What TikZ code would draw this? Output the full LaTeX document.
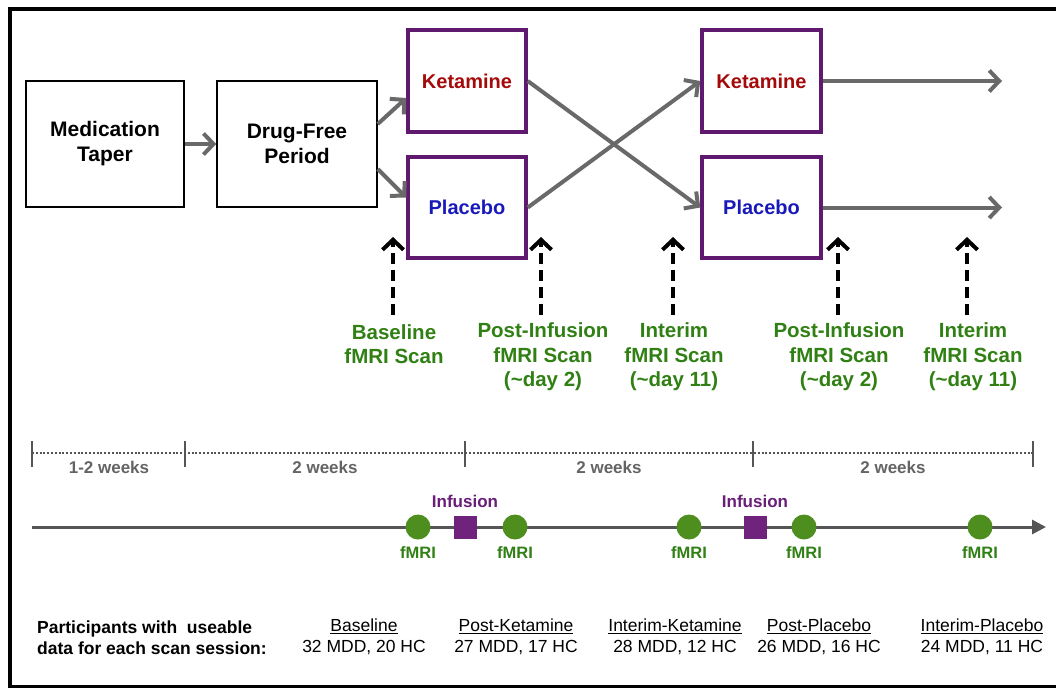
\documentclass[tikz,border=0pt]{standalone}
\usepackage{fontspec}
\setmainfont{Liberation Sans}
\usetikzlibrary{arrows.meta}
\definecolor{boxpurple}{RGB}{95,25,110}
\definecolor{sqpurple}{RGB}{112,35,125}
\definecolor{infpurple}{RGB}{105,30,120}
\definecolor{ketred}{RGB}{165,10,10}
\definecolor{plablue}{RGB}{25,25,185}
\definecolor{textgreen}{RGB}{48,128,20}
\definecolor{circgreen}{RGB}{78,142,30}
\definecolor{arrowgray}{RGB}{105,105,105}
\definecolor{linegray}{RGB}{85,85,85}
\definecolor{weekgray}{RGB}{100,100,100}
\begin{document}
\begin{tikzpicture}[x=1pt,y=-1pt,
  wbox/.style={draw=black,line width=1.5pt,minimum width=158pt,minimum height=126pt,inner sep=0pt,
    font=\fontsize{21}{25}\selectfont\bfseries,align=center},
  pbox/.style={draw=boxpurple,line width=3.5pt,minimum width=118pt,minimum height=102pt,inner sep=0pt,
    font=\fontsize{20}{24}\selectfont\bfseries},
  garrow/.style={draw=arrowgray,line width=4pt,-{Straight Barb[length=10pt,width=21pt]}},
  scanarrow/.style={draw=black,line width=4pt,dash pattern=on 11pt off 6pt,-{Straight Barb[length=10pt,width=21pt]}},
  scanlabel/.style={text=textgreen,font=\fontsize{20.5}{24.5}\selectfont\bfseries,align=center,inner sep=0pt},
  weeks/.style={text=weekgray,font=\fontsize{17}{20}\selectfont\bfseries,inner sep=0pt},
  tickline/.style={draw=linegray,line width=2pt},
  dotline/.style={draw=linegray,line width=2pt,dash pattern=on 2pt off 1.8pt},
  timeline/.style={draw=linegray,line width=3pt,-{Triangle[length=14pt,width=14pt]}},
  scandot/.style={circle,fill=circgreen,minimum size=25pt,inner sep=0pt},
  infsq/.style={rectangle,fill=sqpurple,minimum size=23pt,inner sep=0pt},
  fmrilabel/.style={text=textgreen,font=\fontsize{16.5}{20}\selectfont\bfseries,inner sep=0pt},
  inflabel/.style={text=infpurple,font=\fontsize{17}{20}\selectfont\bfseries,inner sep=0pt},
  sessioncol/.style={font=\fontsize{17.5}{21}\selectfont,align=center,inner sep=0pt}
]
\useasboundingbox (0,0) rectangle (1056,689);
% frame
\draw[line width=4pt] (1056,9) -- (9.5,9) -- (9.5,686.5);
\draw[line width=2.5pt] (8,686.5) -- (1056,686.5);

% boxes
\node[wbox] (med) at (105,144) {Medication\\Taper};
\node[wbox,minimum width=160pt] (dfp) at (297,144) {Drug-Free\\Period};
\node[pbox,text=ketred] (ket1) at (467,81) {Ketamine};
\node[pbox,text=plablue,minimum height=101pt] (pla1) at (467,207.5) {Placebo};
\node[pbox,text=ketred,minimum width=119pt] (ket2) at (761.5,81) {Ketamine};
\node[pbox,text=plablue,minimum width=119pt,minimum height=101pt] (pla2) at (761.5,207.5) {Placebo};
\coordinate (endk) at (1002,81);
\coordinate (endp) at (1002,207.5);

% arrows
\draw[garrow] (med.east) -- (dfp.west);
\draw[garrow] ([yshift=20pt]dfp.east) -- ([yshift=-17pt]ket1.west);
\draw[garrow] ([yshift=-25pt]dfp.east) -- ([yshift=10pt]pla1.west);
\draw[garrow] (ket1.east) -- (pla2.west);
\draw[garrow] (pla1.east) -- (ket2.west);
\draw[garrow] (ket2.east) -- (endk);
\draw[garrow] (pla2.east) -- (endp);

% scan arrows
\foreach \n/\x in {a/393,b/541,c/673,d/838,e/967}{
  \coordinate (s\n0) at (\x,315);
  \coordinate (s\n1) at (\x,237);
  \draw[scanarrow] (s\n0) -- (s\n1);
}
\node[scanlabel] (lab1) at (394,344) {Baseline\\fMRI Scan};
\node[scanlabel] (lab2) at (543,357) {Post-Infusion\\fMRI Scan\\(\textasciitilde day 2)};
\node[scanlabel] (lab3) at (674,357) {Interim\\fMRI Scan\\(\textasciitilde day 11)};
\node[scanlabel] (lab4) at (839,357) {Post-Infusion\\fMRI Scan\\(\textasciitilde day 2)};
\node[scanlabel] (lab5) at (973,357) {Interim\\fMRI Scan\\(\textasciitilde day 11)};

% weeks scale
\draw[dotline] (32,453) -- (1033,453);
\foreach \x in {32,185,465,753,1033}{
  \draw[tickline] (\x,441) -- (\x,467);
}
\node[weeks] (w1) at (109,467) {1-2 weeks};
\node[weeks] (w2) at (325,467) {2 weeks};
\node[weeks] (w3) at (609,467) {2 weeks};
\node[weeks] (w4) at (893,467) {2 weeks};

% timeline
\coordinate (tl0) at (32,527);
\coordinate (tl1) at (1046,527);
\draw[timeline] (tl0) -- (tl1);
\foreach \n/\x in {1/418,2/515,3/689,4/804,5/980}{
  \node[scandot] (f\n) at (\x,527) {};
  \node[fmrilabel] (fl\n) at (\x,553) {fMRI};
}
\node[infsq] (i1) at (465,527) {};
\node[infsq] (i2) at (755,527) {};
\node[inflabel] (il1) at (465,501) {Infusion};
\node[inflabel] (il2) at (755,501) {Infusion};

% participants
\node[anchor=west,align=left,inner sep=0pt,font=\fontsize{17.5}{21}\selectfont\bfseries] (part) at (37,638)
  {Participants with\ \ useable\\data for each scan session:};
\node[sessioncol] (c1) at (364,637) {\underline{Baseline}\\32 MDD, 20 HC};
\node[sessioncol] (c2) at (516,637) {\underline{Post-Ketamine}\\27 MDD, 17 HC};
\node[sessioncol] (c3) at (675,637) {\underline{Interim-Ketamine}\\28 MDD, 12 HC};
\node[sessioncol] (c4) at (819,637) {\underline{Post-Placebo}\\26 MDD, 16 HC};
\node[sessioncol] (c5) at (982,637) {\underline{Interim-Placebo}\\24 MDD, 11 HC};
\end{tikzpicture}
\end{document}
